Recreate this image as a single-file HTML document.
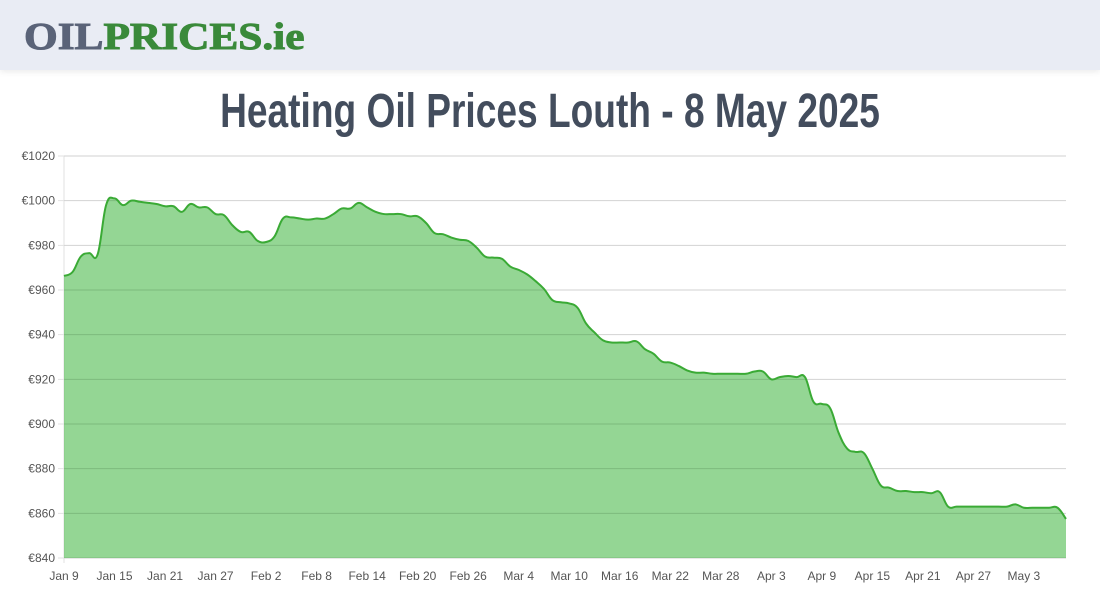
<!DOCTYPE html>
<html><head><meta charset="utf-8"><style>
body{margin:0;width:1100px;height:600px;background:#fff;overflow:hidden;font-family:"Liberation Sans",sans-serif}
#hdr{position:absolute;left:0;top:0;width:1100px;height:70px;background:#e9ecf4;box-shadow:0 2px 6px rgba(0,0,0,0.08)}
#logo{position:absolute;left:24px;top:15px;font-family:"Liberation Serif",serif;font-weight:900;font-size:38px;letter-spacing:0px;transform:scaleX(1.14);transform-origin:left;-webkit-text-stroke:1px currentColor;white-space:nowrap}
#title{position:absolute;left:0;top:84px;width:1100px;text-align:center;font-family:"Liberation Sans",sans-serif;font-weight:bold;font-size:48px;color:#434d5d;transform:scaleX(0.773);transform-origin:center;white-space:nowrap}
svg{position:absolute;left:0;top:0}
</style></head><body>
<div id="hdr">
<div id="logo"><span style="color:#5a6378">OIL</span><span style="color:#3a8a3a">PRICES.ie</span></div>
</div>
<div id="title">Heating Oil Prices Louth - 8 May 2025</div>
<svg id="chart" width="1100" height="600"></svg>
<script>
const yTicks=[840,860,880,900,920,940,960,980,1000,1020];
const xTickLabels=["Jan 9","Jan 15","Jan 21","Jan 27","Feb 2","Feb 8","Feb 14","Feb 20","Feb 26","Mar 4","Mar 10","Mar 16","Mar 22","Mar 28","Apr 3","Apr 9","Apr 15","Apr 21","Apr 27","May 3"];
const prices=[966.3,968,975,976.5,976,998,1001,998,1000,999.5,999,998.5,997.5,997.5,995,998.5,997,997,994,993.5,989,986,986,982,981.5,984,992,992.5,992,991.5,992,992,994,996.5,996.5,999,997,995,994,994,994,993,993,990,985.5,985,983.5,982.5,982,979,975,974.5,974,970.5,969,967,964,960.5,955.5,954.5,954,952,945,941,937.5,936.5,936.5,936.5,937,933.5,931.5,928,927.5,926,924,923,923,922.5,922.5,922.5,922.5,922.5,923.5,923.5,920,921,921.5,921,921,910,909,907,896,889,887.5,887,880,872.5,871.5,870,870,869.5,869.5,869,869.5,863,863,863,863,863,863,863,863,864,862.5,862.5,862.5,862.5,862.5,857.5];
const NS="http://www.w3.org/2000/svg";
const svg=document.getElementById('chart');
const X0=64,X1=1066,Y0=558,Y1=156,ymin=840,ymax=1020;
const xs=i=>X0+(X1-X0)*i/(prices.length-1);
const ys=v=>Y0-(v-ymin)/(ymax-ymin)*(Y0-Y1);
function mk(t,a){const e=document.createElementNS(NS,t);for(const k in a)e.setAttribute(k,a[k]);svg.appendChild(e);return e;}
yTicks.forEach(v=>{
 const g=mk('line',{x1:58,x2:X1,y1:ys(v),y2:ys(v),stroke:'#e2e2e2','stroke-width':1});
 
 
 const t=mk('text',{x:55,y:ys(v)+4,'text-anchor':'end','font-size':12,fill:'#555','font-family':'Liberation Sans, sans-serif'});
 t.textContent='€'+v;
 
 
});
const ax=mk('line',{x1:X0,x2:X0,y1:Y1,y2:Y0+5,stroke:'#e2e2e2'});


xTickLabels.forEach((l,k)=>{
 const t=mk('text',{x:xs(k*6),y:580,'text-anchor':'middle','font-size':12,fill:'#555','font-family':'Liberation Sans, sans-serif'});
 t.textContent=l;
 
 
});
const pts=prices.map((v,i)=>[xs(i),ys(v)]);
let d='M'+pts[0][0]+','+pts[0][1];
const tn=0.2;
for(let i=0;i<pts.length-1;i++){
 const p0=pts[Math.max(0,i-1)],p1=pts[i],p2=pts[i+1],p3=pts[Math.min(pts.length-1,i+2)];
 const c1=[p1[0]+(p2[0]-p0[0])*tn,p1[1]+(p2[1]-p0[1])*tn];
 const c2=[p2[0]-(p3[0]-p1[0])*tn,p2[1]-(p3[1]-p1[1])*tn];
 d+=' C'+c1+' '+c2+' '+p2;
}
const area=mk('path',{d:d+' L'+X1+','+Y0+' L'+X0+','+Y0+' Z',fill:'rgba(60,180,60,0.55)',stroke:'none'});


yTicks.forEach(v=>{const g=mk('line',{x1:X0,x2:X1,y1:ys(v),y2:ys(v),stroke:'rgba(0,0,0,0.07)'});
 
 });
const line=mk('path',{d:d,fill:'none',stroke:'#3aaa35','stroke-width':2});


</script>
</body></html>
